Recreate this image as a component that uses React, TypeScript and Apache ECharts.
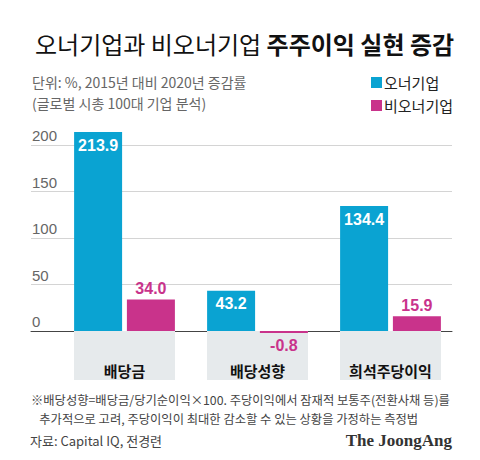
import React, { useEffect, useRef } from "react";
import * as echarts from "echarts";

const categories = ["배당금", "배당성향", "희석주당이익"];
const ownerValues = [213.9, 43.2, 134.4];
const nonOwnerValues = [34.0, -0.8, 15.9];
const seriesNames = ["오너기업", "비오너기업"];
const yTicks = { min: 0, max: 200, interval: 50 };

const BLUE = "#0aa3d2";
const PINK = "#c9338b";
const KR = "'Noto Sans CJK KR', 'Noto Sans', sans-serif";
const NUM = "'Liberation Sans', 'Noto Sans CJK KR', sans-serif";

export default function App() {
  const ref = useRef<HTMLDivElement>(null);
  useEffect(() => {
    if (!ref.current) return;
    const chart = echarts.init(ref.current, null, { renderer: "svg" });
    const top = 145;
    const bottom = 129;
    chart.setOption({
      animation: false,
      backgroundColor: "#ffffff",
      title: {
        left: 30,
        top: 26,
        text: "{a|오너기업과 비오너기업 }{b|주주이익 실현 증감}",
        textStyle: {
          rich: {
            a: { fontFamily: KR, fontSize: 24, fontWeight: "normal", color: "#111" },
            b: { fontFamily: KR, fontSize: 24, fontWeight: "bold", color: "#111" },
          },
        },
      },
      legend: {
        orient: "vertical",
        left: 366,
        top: 70,
        icon: "rect",
        itemWidth: 11,
        itemHeight: 11,
        itemGap: 8,
        data: seriesNames,
        textStyle: { fontFamily: KR, fontSize: 15, color: "#222", padding: [0, 0, 0, -3] },
      },
      graphic: [
        {
          type: "text",
          left: 32,
          top: 71,
          style: {
            text: "단위: %, 2015년 대비 2020년 증감률\n(글로벌 시총 100대 기업 분석)",
            fontFamily: KR,
            fontSize: 14,
            lineHeight: 21,
            fill: "#666",
          },
        },
        {
          type: "text",
          left: 31,
          top: 390,
          style: {
            text: "※배당성향=배당금/당기순이익×100. 주당이익에서 잠재적 보통주(전환사채 등)를\n   추가적으로 고려, 주당이익이 최대한 감소할 수 있는 상황을 가정하는 측정법",
            fontFamily: KR,
            fontSize: 12.3,
            lineHeight: 19,
            fill: "#444",
          },
        },
        {
          type: "text",
          left: 30,
          top: 434,
          style: {
            text: "자료: Capital IQ, 전경련",
            fontFamily: KR,
            fontSize: 13,
            fill: "#444",
          },
        },
        {
          type: "text",
          right: 28,
          top: 432,
          style: {
            text: "The JoongAng",
            fontFamily: "'Liberation Serif', 'DejaVu Serif', serif",
            fontSize: 17,
            fontWeight: "bold",
            fill: "#333",
          },
        },
      ],
      grid: [
        { left: 31, right: 28, top, bottom },
        { left: 58, right: 23, top, bottom },
      ],
      xAxis: [
        {
          gridIndex: 0,
          type: "value",
          min: 0,
          max: 1,
          axisLine: { show: true, onZero: false, lineStyle: { color: "#444", width: 1 } },
          axisTick: { show: false },
          axisLabel: { show: false },
          splitLine: { show: false },
        },
        {
          gridIndex: 1,
          type: "category",
          data: categories,
          axisLine: { show: false },
          axisTick: { show: false },
          axisLabel: {
            margin: 0,
            interval: 0,
            fontFamily: KR,
            fontSize: 15,
            fontWeight: "bold",
            color: "#111",
            backgroundColor: "#e6eaec",
            width: 101,
            align: "center",
            lineHeight: 16,
            padding: [31, 0, 2, 0],
          },
        },
      ],
      yAxis: [
        {
          gridIndex: 0,
          type: "value",
          min: yTicks.min,
          max: yTicks.max,
          interval: yTicks.interval,
          axisLine: { show: false },
          axisTick: { show: false },
          axisLabel: {
            margin: -1,
            align: "left",
            verticalAlign: "bottom",
            padding: [0, 0, 2, 0],
            fontFamily: NUM,
            fontSize: 15,
            color: "#666",
          },
          splitLine: { lineStyle: { color: "#d4d4d4", width: 1 } },
        },
        {
          gridIndex: 1,
          type: "value",
          min: yTicks.min,
          max: yTicks.max,
          interval: yTicks.interval,
          show: false,
          splitLine: { show: false },
        },
      ],
      series: [
        {
          name: seriesNames[0],
          type: "bar",
          xAxisIndex: 1,
          yAxisIndex: 1,
          clip: false,
          barWidth: 48,
          barGap: "10%",
          itemStyle: { color: BLUE },
          z: 5,
          label: {
            show: true,
            position: "insideTop",
            distance: 5,
            color: "#fff",
            fontFamily: NUM,
            fontSize: 16,
            fontWeight: "bold",
            formatter: (p: any) => Number(p.value).toFixed(1),
          },
          data: ownerValues,
        },
        {
          name: seriesNames[1],
          type: "bar",
          xAxisIndex: 1,
          yAxisIndex: 1,
          clip: false,
          barWidth: 48,
          barMinHeight: 2,
          itemStyle: { color: PINK },
          z: 5,
          label: {
            show: true,
            position: "top",
            distance: 3,
            color: PINK,
            fontFamily: NUM,
            fontSize: 16,
            fontWeight: "bold",
            formatter: (p: any) => Number(p.value).toFixed(1),
          },
          data: nonOwnerValues.map((v) =>
            v < 0 ? { value: v, label: { position: "bottom", distance: 4 } } : v
          ),
        },
      ],
    });
    return () => chart.dispose();
  }, []);
  return (
    <div
      ref={ref}
      style={{ position: "fixed", left: 0, top: 0, width: 480, height: 460, background: "#fff" }}
    />
  );
}
